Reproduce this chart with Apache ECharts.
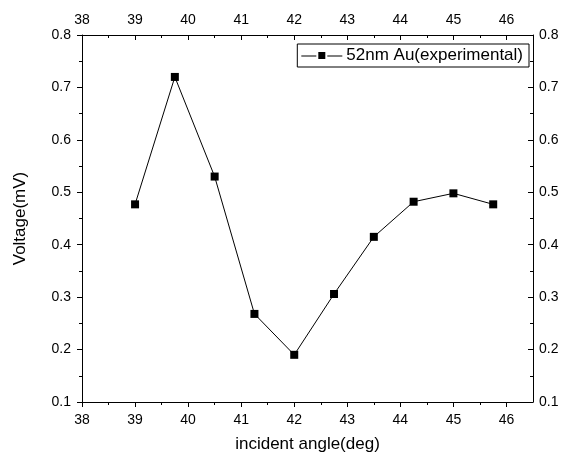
<!DOCTYPE html>
<html>
<head>
<meta charset="utf-8">
<script src="https://cdn.jsdelivr.net/npm/echarts@6/dist/echarts.min.js"></script>
<style>html,body{margin:0;padding:0;background:#fff}#c{width:565px;height:460px}</style>
</head>
<body>
<div id="c"></div>
<script>
var angles = [39, 39.75, 40.5, 41.25, 42, 42.75, 43.5, 44.25, 45, 45.75];
var voltages = [0.477, 0.720, 0.530, 0.268, 0.190, 0.306, 0.415, 0.482, 0.498, 0.477];
var xTicks = [38, 39, 40, 41, 42, 43, 44, 45, 46];
var xMinorTicks = [38.5, 39.5, 40.5, 41.5, 42.5, 43.5, 44.5, 45.5];
var yTicks = [0.1, 0.2, 0.3, 0.4, 0.5, 0.6, 0.7, 0.8];
var yMinorTicks = [0.15, 0.25, 0.35, 0.45, 0.55, 0.65, 0.75];
var seriesName = '52nm Au(experimental)';

var FONT = 'Liberation Sans, Arial, sans-serif';
var XMIN = 38, XMAX = 46.5, YMIN = 0.1, YMAX = 0.8;
var lineStyle = {color: '#000', width: 1};

function xAxisDef(pos, major, inside) {
  return {
    type: 'value', position: pos, min: XMIN, max: XMAX,
    axisLine: {show: major, onZero: false, lineStyle: lineStyle},
    splitLine: {show: false},
    axisTick: {show: true, inside: inside, length: major ? 5 : 3, lineStyle: lineStyle,
      customValues: major ? xTicks : xMinorTicks},
    axisLabel: major ? {show: true, customValues: xTicks, color: '#000', fontSize: 14,
      fontFamily: FONT, margin: pos === 'bottom' ? 11 : 8, formatter: function (v) { return String(v); }} : {show: false},
    name: (major && pos === 'bottom') ? 'incident angle(deg)' : '',
    nameLocation: 'middle', nameGap: 34,
    nameTextStyle: {color: '#000', fontSize: 17, fontFamily: FONT}
  };
}
function yAxisDef(pos, major, inside) {
  return {
    type: 'value', position: pos, min: YMIN, max: YMAX,
    axisLine: {show: major, onZero: false, lineStyle: lineStyle},
    splitLine: {show: false},
    axisTick: {show: true, inside: inside, length: major ? 5 : 3, lineStyle: lineStyle,
      customValues: major ? yTicks : yMinorTicks},
    axisLabel: major ? {show: true, customValues: yTicks, color: '#000', fontSize: 14,
      fontFamily: FONT, margin: pos === 'left' ? 11 : 6, formatter: function (v) { return v.toFixed(1); }} : {show: false},
    name: (major && pos === 'left') ? 'Voltage(mV)' : '',
    nameLocation: 'middle', nameGap: 53,
    nameTextStyle: {color: '#000', fontSize: 17, fontFamily: FONT}
  };
}

var chart = echarts.init(document.getElementById('c'), null, {renderer: 'canvas'});
chart.setOption({
  animation: false,
  backgroundColor: '#fff',
  grid: {left: 82, right: 32, top: 35, bottom: 58, containLabel: false},
  legend: {
    data: [{name: seriesName, icon: 'path://M0,3.5H15V4.5H0Z M17,0H24V7H17Z M26,3.5H41V4.5H26Z'}],
    top: 44, right: 36,
    borderColor: '#000', borderWidth: 1, padding: [3, 6, 3, 4],
    itemWidth: 41, itemHeight: 7, itemGap: 4,
    itemStyle: {color: '#000'},
    textStyle: {color: '#000', fontSize: 17, fontFamily: FONT, padding: [0, 0, 0, -1]}
  },
  xAxis: [xAxisDef('bottom', true, false), xAxisDef('bottom', false, false),
          xAxisDef('top', true, true), xAxisDef('top', false, true)],
  yAxis: [yAxisDef('left', true, false), yAxisDef('left', false, false),
          yAxisDef('right', true, true), yAxisDef('right', false, true)],
  series: [{
    name: seriesName, type: 'line', xAxisIndex: 0, yAxisIndex: 0,
    data: angles.map(function (a, i) { return [a, voltages[i]]; }),
    symbol: 'rect', symbolSize: 8,
    itemStyle: {color: '#000'},
    lineStyle: {color: '#000', width: 1}
  }]
});
</script>
</body>
</html>
